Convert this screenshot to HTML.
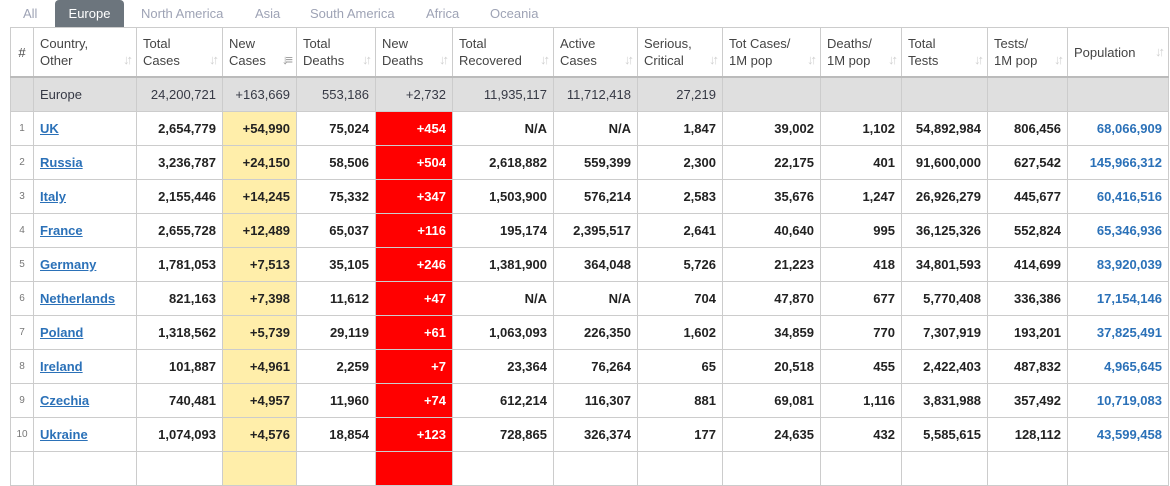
<!DOCTYPE html>
<html><head><style>
body{margin:0;width:1170px;height:455px;overflow:hidden;background:#fff;font-family:"Liberation Sans",Arial,sans-serif;color:#363945;position:relative}
.tabs{position:absolute;top:0;left:0;height:27px;font-size:13px;color:#9ea3b5;width:1170px}
.tab{position:absolute;top:0;height:27px;line-height:27px;white-space:nowrap}
.tab.act{background:#6c757d;color:#fff;border-radius:4px 4px 0 0;text-align:center}
table{position:absolute;left:10px;top:27px;border-collapse:collapse;table-layout:fixed;font-size:13px}
td,th{border:1px solid #ccc;padding:0 6px;overflow:hidden;white-space:nowrap}
th{height:48px;text-align:left;font-weight:normal;color:#444;vertical-align:middle;line-height:17px;position:relative;border-bottom:2px solid #bbb}
th .s{position:absolute;right:6px;bottom:8px;color:#d0d0d0;font-size:13px;letter-spacing:-3px;font-weight:bold}
td{height:33px;text-align:right;font-weight:bold;color:#222}
tr.eu td{background:#dfdfdf;font-weight:normal;color:#363945}
td.n{font-size:10px;color:#777;font-weight:normal;text-align:center;padding:0}
td.c{text-align:left}
td.c a{color:#2b71b8;text-decoration:underline}
td.y{background:#ffeeaa}
td.r{background:#ff0000;color:#fff}
td.p{color:#2b71b8}
</style></head><body>
<div class="tabs">
<div class="tab" style="left:23px">All</div>
<div class="tab act" style="left:55px;width:69px">Europe</div>
<div class="tab" style="left:141px">North America</div>
<div class="tab" style="left:255px">Asia</div>
<div class="tab" style="left:310px">South America</div>
<div class="tab" style="left:426px">Africa</div>
<div class="tab" style="left:490px">Oceania</div>
</div>
<table>
<colgroup><col style="width:23px"><col style="width:103px"><col style="width:86px"><col style="width:74px"><col style="width:79px"><col style="width:77px"><col style="width:101px"><col style="width:84px"><col style="width:85px"><col style="width:98px"><col style="width:81px"><col style="width:86px"><col style="width:80px"><col style="width:101px"></colgroup>
<tr><th style="text-align:center;padding:0">#</th><th>Country,<br>Other<span class="s">↓↑</span></th><th>Total<br>Cases<span class="s">↓↑</span></th><th>New<br>Cases<span class="s" style="color:#999">↓≡</span></th><th>Total<br>Deaths<span class="s">↓↑</span></th><th>New<br>Deaths<span class="s">↓↑</span></th><th>Total<br>Recovered<span class="s">↓↑</span></th><th>Active<br>Cases<span class="s">↓↑</span></th><th>Serious,<br>Critical<span class="s">↓↑</span></th><th>Tot&nbsp;Cases/<br>1M pop<span class="s">↓↑</span></th><th>Deaths/<br>1M pop<span class="s">↓↑</span></th><th>Total<br>Tests<span class="s">↓↑</span></th><th>Tests/<br>1M pop<span class="s">↓↑</span></th><th>Population<span class="s" style="bottom:16px">↓↑</span></th></tr>
<tr class="eu"><td></td><td style="text-align:left">Europe</td><td>24,200,721</td><td>+163,669</td><td>553,186</td><td>+2,732</td><td>11,935,117</td><td>11,712,418</td><td>27,219</td><td></td><td></td><td></td><td></td><td></td></tr>
<tr><td class="n">1</td><td class="c"><a>UK</a></td><td>2,654,779</td><td class="y">+54,990</td><td>75,024</td><td class="r">+454</td><td>N/A</td><td>N/A</td><td>1,847</td><td>39,002</td><td>1,102</td><td>54,892,984</td><td>806,456</td><td class="p">68,066,909</td></tr>
<tr><td class="n">2</td><td class="c"><a>Russia</a></td><td>3,236,787</td><td class="y">+24,150</td><td>58,506</td><td class="r">+504</td><td>2,618,882</td><td>559,399</td><td>2,300</td><td>22,175</td><td>401</td><td>91,600,000</td><td>627,542</td><td class="p">145,966,312</td></tr>
<tr><td class="n">3</td><td class="c"><a>Italy</a></td><td>2,155,446</td><td class="y">+14,245</td><td>75,332</td><td class="r">+347</td><td>1,503,900</td><td>576,214</td><td>2,583</td><td>35,676</td><td>1,247</td><td>26,926,279</td><td>445,677</td><td class="p">60,416,516</td></tr>
<tr><td class="n">4</td><td class="c"><a>France</a></td><td>2,655,728</td><td class="y">+12,489</td><td>65,037</td><td class="r">+116</td><td>195,174</td><td>2,395,517</td><td>2,641</td><td>40,640</td><td>995</td><td>36,125,326</td><td>552,824</td><td class="p">65,346,936</td></tr>
<tr><td class="n">5</td><td class="c"><a>Germany</a></td><td>1,781,053</td><td class="y">+7,513</td><td>35,105</td><td class="r">+246</td><td>1,381,900</td><td>364,048</td><td>5,726</td><td>21,223</td><td>418</td><td>34,801,593</td><td>414,699</td><td class="p">83,920,039</td></tr>
<tr><td class="n">6</td><td class="c"><a>Netherlands</a></td><td>821,163</td><td class="y">+7,398</td><td>11,612</td><td class="r">+47</td><td>N/A</td><td>N/A</td><td>704</td><td>47,870</td><td>677</td><td>5,770,408</td><td>336,386</td><td class="p">17,154,146</td></tr>
<tr><td class="n">7</td><td class="c"><a>Poland</a></td><td>1,318,562</td><td class="y">+5,739</td><td>29,119</td><td class="r">+61</td><td>1,063,093</td><td>226,350</td><td>1,602</td><td>34,859</td><td>770</td><td>7,307,919</td><td>193,201</td><td class="p">37,825,491</td></tr>
<tr><td class="n">8</td><td class="c"><a>Ireland</a></td><td>101,887</td><td class="y">+4,961</td><td>2,259</td><td class="r">+7</td><td>23,364</td><td>76,264</td><td>65</td><td>20,518</td><td>455</td><td>2,422,403</td><td>487,832</td><td class="p">4,965,645</td></tr>
<tr><td class="n">9</td><td class="c"><a>Czechia</a></td><td>740,481</td><td class="y">+4,957</td><td>11,960</td><td class="r">+74</td><td>612,214</td><td>116,307</td><td>881</td><td>69,081</td><td>1,116</td><td>3,831,988</td><td>357,492</td><td class="p">10,719,083</td></tr>
<tr><td class="n">10</td><td class="c"><a>Ukraine</a></td><td>1,074,093</td><td class="y">+4,576</td><td>18,854</td><td class="r">+123</td><td>728,865</td><td>326,374</td><td>177</td><td>24,635</td><td>432</td><td>5,585,615</td><td>128,112</td><td class="p">43,599,458</td></tr>
<tr><td></td><td></td><td></td><td class="y"></td><td></td><td class="r"></td><td></td><td></td><td></td><td></td><td></td><td></td><td></td><td></td></tr>
</table>
</body></html>
